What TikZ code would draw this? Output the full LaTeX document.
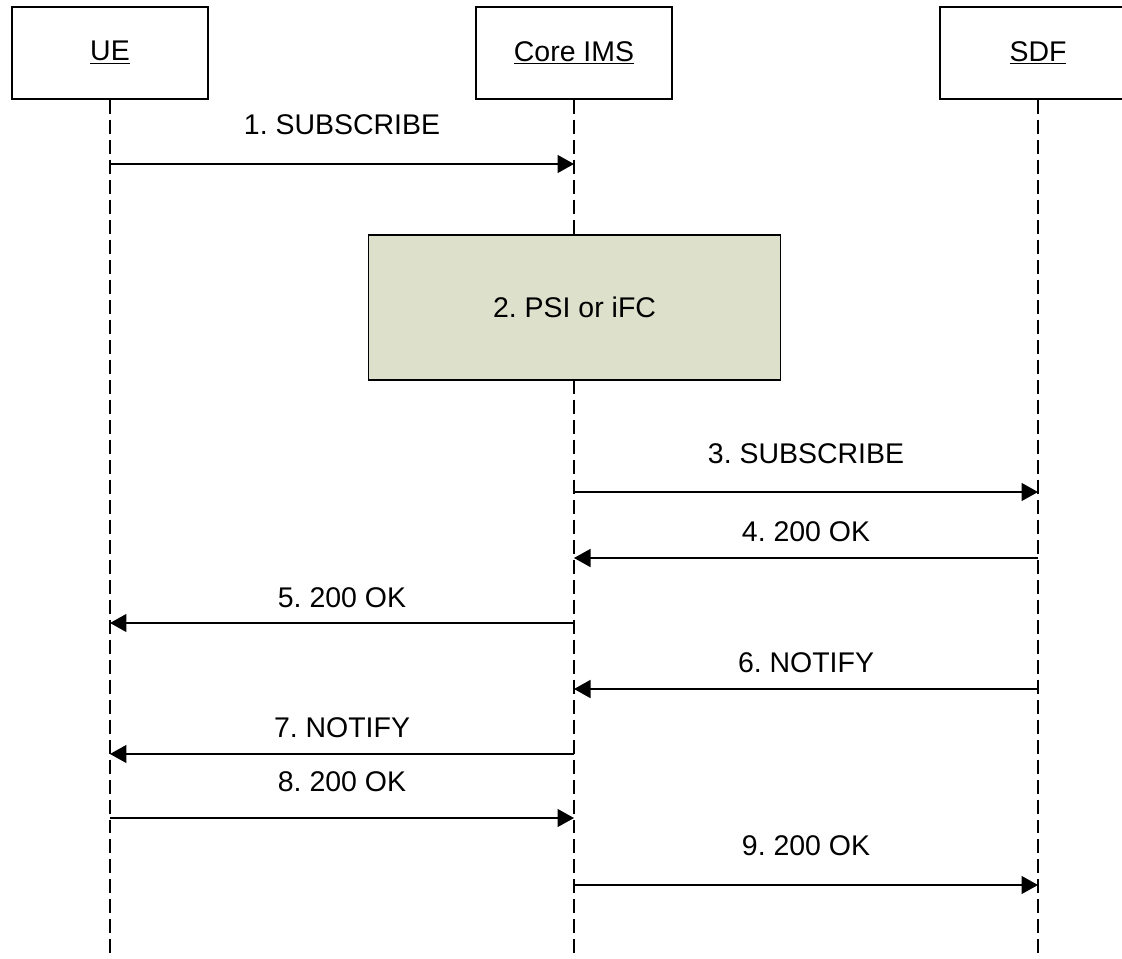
\documentclass[tikz,border=0pt]{standalone}
\usepackage{fontspec}
\setmainfont{Liberation Sans}
\usetikzlibrary{arrows.meta}
\definecolor{actionfill}{HTML}{DDE0CB}
\frenchspacing

\begin{document}
\begin{tikzpicture}[x=0.02cm, y=-0.02cm,
  entity/.style ={rectangle, draw, line width=0.75pt, minimum width=3.92cm, minimum height=1.84cm, inner sep=0pt, font=\fontsize{16.2}{19}\selectfont},
  lifeline/.style ={line width=0.75pt, dash pattern=on 0.28cm off 0.12cm},
  message/.style ={line width=0.8pt, -{Triangle[length=0.33cm, width=0.36cm]}},
  msglabel/.style ={anchor=base, inner sep=0pt, font=\fontsize{16.2}{19}\selectfont},
  action/.style ={rectangle, draw, line width=0.6pt, fill=actionfill, minimum width=8.26cm, minimum height=2.9cm, inner sep=0pt, font=\fontsize{16.2}{19}\selectfont}]
 \useasboundingbox (0,0) rectangle (1122,959);
 \clip (0,0) rectangle (1122,959);
 \node[entity] (ue)  at (110,53)  {\underline{UE}};
 \node[entity] (ims) at (574,53)  {\underline{Core IMS}};
 \node[entity] (sdf) at (1038,53) {\underline{SDF}};
 \draw[lifeline] (ue.south)  -- (ue.south |- 0,959);
 \draw[lifeline] (ims.south) -- (ims.south |- 0,959);
 \draw[lifeline] (sdf.south) -- (sdf.south |- 0,959);
 \node[action] (psi) at (574.5,307.5) {2. PSI or iFC};
 \node[msglabel] (l1) at (342,135) {1. SUBSCRIBE};
 \node[msglabel] (l3) at (806,463) {3. SUBSCRIBE};
 \node[msglabel] (l4) at (806,541) {4. 200 OK};
 \node[msglabel] (l5) at (342,607) {5. 200 OK};
 \node[msglabel] (l6) at (806,672) {6. NOTIFY};
 \node[msglabel] (l7) at (342,737) {7. NOTIFY};
 \node[msglabel] (l8) at (342,791) {8. 200 OK};
 \node[msglabel] (l9) at (806,855) {9. 200 OK};
 \draw[message] (ue.south |- 0,164)  -- (ims.south |- 0,164);
 \draw[message] (ims.south |- 0,492) -- (sdf.south |- 0,492);
 \draw[message] (sdf.south |- 0,558) -- (ims.south |- 0,558);
 \draw[message] (ims.south |- 0,623) -- (ue.south |- 0,623);
 \draw[message] (sdf.south |- 0,689) -- (ims.south |- 0,689);
 \draw[message] (ims.south |- 0,754) -- (ue.south |- 0,754);
 \draw[message] (ue.south |- 0,818)  -- (ims.south |- 0,818);
 \draw[message] (ims.south |- 0,885) -- (sdf.south |- 0,885);
\end{tikzpicture}
\end{document}
